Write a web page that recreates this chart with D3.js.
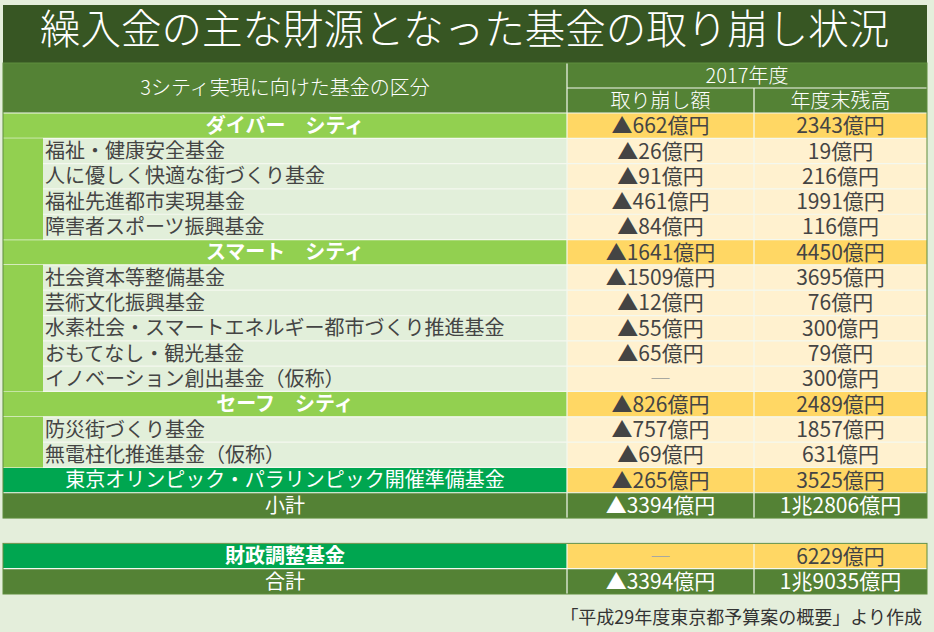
<!DOCTYPE html>
<html>
<head>
<meta charset="utf-8">
<script src="https://cdn.jsdelivr.net/npm/d3@7"></script>
<style>
  body { margin:0; background:#e4eedb; }
  svg { display:block; font-family:"Noto Sans CJK JP","Noto Sans",sans-serif; }
</style>
</head>
<body>
<svg id="chart" width="934" height="632"></svg>
<script>
// 基金の区分（行）
var rowLabels = ["ダイバー　シティ","福祉・健康安全基金","人に優しく快適な街づくり基金","福祉先進都市実現基金","障害者スポーツ振興基金",
  "スマート　シティ","社会資本等整備基金","芸術文化振興基金","水素社会・スマートエネルギー都市づくり推進基金","おもてなし・観光基金","イノベーション創出基金（仮称）",
  "セーフ　シティ","防災街づくり基金","無電柱化推進基金（仮称）",
  "東京オリンピック・パラリンピック開催準備基金","小計","","財政調整基金","合計"];
var rowTypes = ["city","item","item","item","item",
  "city","item","item","item","item","item",
  "city","item","item",
  "olympic","subtotal","gap","reserve","total"];
// 取り崩し額（億円）
var withdrawals = [662,26,91,461,84,1641,1509,12,55,65,null,826,757,69,265,3394,null,null,3394];
// 年度末残高（億円）
var balances = [2343,19,216,1991,116,4450,3695,76,300,79,300,2489,1857,631,3525,12806,null,6229,19035];

var title = "繰入金の主な財源となった基金の取り崩し状況";
var headLeft = "3シティ実現に向けた基金の区分";
var headYear = "2017年度";
var headCols = ["取り崩し額","年度末残高"];
var source = "「平成29年度東京都予算案の概要」より作成";

var svg = d3.select("#chart");
var X0 = 3, X1 = 567, X2 = 754, X3 = 927, INDENT = 43;
var C = {title:"#375623", head:"#548235", city:"#92d050", olympic:"#00a650", light:"#e2efda",
         gold:"#ffd764", cream:"#fff1cf", line:"#f4f8ef", text:"#444444"};

var y = d3.scaleBand().domain(d3.range(rowLabels.length)).range([113,594]).paddingInner(0);
var rh = y.bandwidth();

function fmt(v){
  if (v >= 10000) return Math.floor(v/10000) + "兆" + (v%10000) + "億円";
  return v + "億円";
}

// title bar
svg.append("rect").attr("x",X0).attr("y",5).attr("width",X3-X0).attr("height",58).attr("fill",C.title);
svg.append("text").attr("x",40).attr("y",29).attr("dy","0.36em").attr("fill","#fff")
   .style("font-size","40.5px").style("font-weight","300").text(title);

// header
var hd = svg.append("g");
hd.append("rect").attr("x",X0).attr("y",63).attr("width",X3-X0).attr("height",50).attr("fill",C.head);
hd.append("line").attr("x1",X1).attr("x2",X1).attr("y1",63).attr("y2",113).attr("stroke",C.line).attr("stroke-width",1.2);
hd.append("line").attr("x1",X1).attr("x2",X3).attr("y1",88).attr("y2",88).attr("stroke",C.line).attr("stroke-width",1.2);
hd.append("line").attr("x1",X2).attr("x2",X2).attr("y1",88).attr("y2",113).attr("stroke",C.line).attr("stroke-width",1.2);
hd.append("text").attr("x",(X0+X1)/2).attr("y",88).attr("dy","0.36em").attr("text-anchor","middle")
  .attr("fill","#fff").style("font-size","20px").style("font-weight","300").text(headLeft);
hd.append("text").attr("x",(X1+X3)/2).attr("y",75.5).attr("dy","0.36em").attr("text-anchor","middle")
  .attr("fill","#fff").style("font-size","20px").style("font-weight","300").text(headYear);
hd.selectAll(".hc").data(headCols).enter().append("text")
  .attr("x",function(d,i){ return i==0 ? (X1+X2)/2 : (X2+X3)/2; })
  .attr("y",100.5).attr("dy","0.36em").attr("text-anchor","middle")
  .attr("fill","#fff").style("font-size","20px").style("font-weight","300").text(function(d){ return d; });

var rows = d3.range(rowLabels.length).filter(function(i){ return rowTypes[i] != "gap"; });

function leftFill(t){
  if (t=="city") return C.city;
  if (t=="olympic" || t=="reserve") return C.olympic;
  if (t=="subtotal" || t=="total") return C.head;
  return C.light;
}
function rightFill(t){
  if (t=="item") return C.cream;
  if (t=="subtotal" || t=="total") return C.head;
  return C.gold;
}

var g = svg.selectAll(".row").data(rows).enter().append("g").attr("class","row")
  .attr("transform",function(i){ return "translate(0," + y(i) + ")"; });

g.append("rect").attr("x",function(i){ return rowTypes[i]=="item" ? INDENT : X0; })
  .attr("width",function(i){ return rowTypes[i]=="item" ? X1-INDENT : X1-X0; })
  .attr("height",rh).attr("fill",function(i){ return leftFill(rowTypes[i]); });
g.append("rect").attr("x",X1).attr("width",X3-X1).attr("height",rh)
  .attr("fill",function(i){ return rightFill(rowTypes[i]); });

// indent blocks next to items
var groups = [];
rows.forEach(function(i){
  if (rowTypes[i]=="item") {
    var last = groups[groups.length-1];
    if (last && last.end == i-1) last.end = i; else groups.push({start:i,end:i});
  }
});
svg.selectAll(".indent").data(groups).enter().append("rect")
  .attr("x",X0).attr("y",function(d){ return y(d.start); })
  .attr("width",INDENT-X0).attr("height",function(d){ return y(d.end)+rh-y(d.start); })
  .attr("fill",C.city);

// row lines
g.append("line").attr("x1",function(i){ return rowTypes[i]=="item" && rowTypes[i-1]=="item" ? INDENT : X0; })
  .attr("x2",X3).attr("y1",0).attr("y2",0).attr("stroke",C.line).attr("stroke-width",1.2);
g.append("line").attr("x1",X1).attr("x2",X1).attr("y1",0).attr("y2",rh).attr("stroke",C.line).attr("stroke-width",1.2);
g.append("line").attr("x1",X2).attr("x2",X2).attr("y1",0).attr("y2",rh).attr("stroke",C.line).attr("stroke-width",1.2);

// outer borders
[[63,y(15)+rh],[y(17),y(18)+rh]].forEach(function(b){
  svg.append("rect").attr("x",X0).attr("y",b[0]).attr("width",X3-X0).attr("height",b[1]-b[0])
    .attr("fill","none").attr("stroke","#5f8d3e").attr("stroke-width",1);
});

// labels
g.append("text")
  .attr("x",function(i){ return rowTypes[i]=="item" ? 45 : (X0+X1)/2; })
  .attr("y",rh/2).attr("dy","0.36em")
  .attr("text-anchor",function(i){ return rowTypes[i]=="item" ? "start" : "middle"; })
  .attr("fill",function(i){ return rowTypes[i]=="item" ? C.text : "#fff"; })
  .style("font-weight",function(i){ return (rowTypes[i]=="city"||rowTypes[i]=="reserve") ? "bold" : "normal"; })
  .style("font-size","20px")
  .text(function(i){ return rowLabels[i]; });

function valColor(i){ return (rowTypes[i]=="subtotal"||rowTypes[i]=="total") ? "#fff" : C.text; }

g.append("text").attr("x",(X1+X2)/2).attr("y",rh/2).attr("dy","0.36em").attr("text-anchor","middle")
  .style("font-size","21px")
  .attr("fill",function(i){ return withdrawals[i]==null ? "#a8a8a0" : valColor(i); })
  .text(function(i){ return withdrawals[i]==null ? "―" : "▲" + fmt(withdrawals[i]); });
g.append("text").attr("x",(X2+X3)/2).attr("y",rh/2).attr("dy","0.36em").attr("text-anchor","middle")
  .style("font-size","21px").attr("fill",function(i){ return valColor(i); })
  .text(function(i){ return fmt(balances[i]); });

// source
svg.append("text").attr("x",922).attr("y",618).attr("dy","0.36em").attr("text-anchor","end")
  .attr("fill","#333").style("font-size","18px").text(source);
</script>
</body>
</html>
